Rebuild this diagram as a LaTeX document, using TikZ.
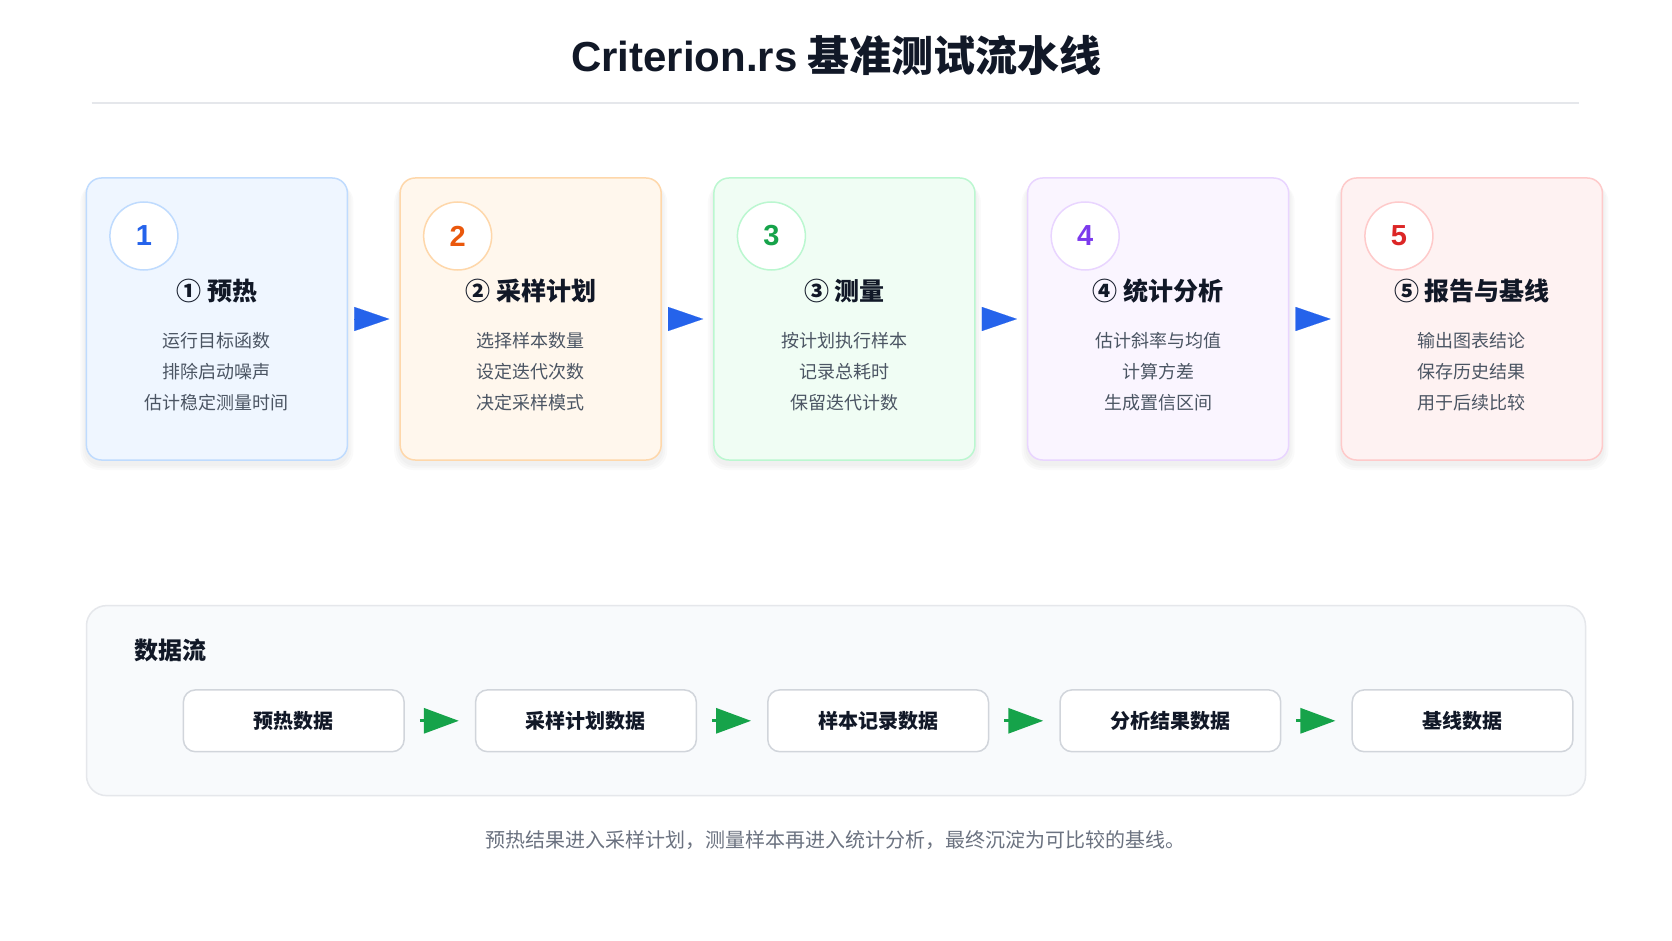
\documentclass[tikz,border=0pt]{standalone}
\usepackage{fontspec}
\setmainfont{Noto Sans CJK SC}
\newfontfamily\latinfont{Liberation Sans}
\usetikzlibrary{arrows.meta}
\definecolor{bluef}{HTML}{EFF6FF}\definecolor{blued}{HTML}{BFDBFE}\definecolor{bluen}{HTML}{2563EB}
\definecolor{orangef}{HTML}{FFF7ED}\definecolor{oranged}{HTML}{FED7AA}\definecolor{orangen}{HTML}{EA580C}
\definecolor{greenf}{HTML}{F0FDF4}\definecolor{greend}{HTML}{BBF7D0}\definecolor{greenn}{HTML}{16A34A}
\definecolor{purplef}{HTML}{FAF5FF}\definecolor{purpled}{HTML}{E9D5FF}\definecolor{purplen}{HTML}{7C3AED}
\definecolor{redf}{HTML}{FEF2F2}\definecolor{redd}{HTML}{FECACA}\definecolor{redn}{HTML}{DC2626}
\definecolor{titlec}{HTML}{111827}
\definecolor{headc}{HTML}{111827}
\definecolor{bodyc}{HTML}{4B5563}
\definecolor{capc}{HTML}{6B7280}
\definecolor{rulec}{HTML}{E5E7EB}
\definecolor{panelf}{HTML}{F8FAFC}
\definecolor{panelb}{HTML}{E5E7EB}
\definecolor{dboxb}{HTML}{D1D5DB}
\definecolor{arrowblue}{HTML}{2563EB}
\definecolor{arrowgreen}{HTML}{16A34A}
\tikzset{
  card/.style={line width=1.5pt, rounded corners=15pt, minimum width=261pt, minimum height=282pt, inner sep=0pt},
  numcircle/.style={circle, fill=white, line width=1.5pt, minimum size=68pt, inner sep=0pt, font=\latinfont\bfseries\fontsize{29}{30}\selectfont},
  headtext/.style={font=\bfseries\fontsize{25}{28}\selectfont, text=headc},
  bodytext/.style={font=\fontsize{18}{22}\selectfont, text=bodyc},
  dbox/.style={draw=dboxb, fill=white, line width=1.5pt, rounded corners=12pt, minimum width=220.7pt, minimum height=61.8pt, inner sep=0pt, font=\bfseries\fontsize{20}{24}\selectfont, text=headc},
  bluearrow/.style={arrowblue, line width=0.1pt, -{Triangle[length=35pt,width=24pt]}, shorten <=7pt, shorten >=10pt},
  greenarrow/.style={arrowgreen, line width=3pt, -{Triangle[length=35pt,width=25pt]}, shorten <=15pt, shorten >=16pt},
}
\newcommand\mkcard[7]{%
  \foreach \k in {1,2,3}{
    \fill[black, opacity=0.018, rounded corners=16pt+\k pt]
      (#2-130.5-2*\k, 178+2+\k) rectangle (#2+130.5+2*\k, 460+4+2*\k);
  }
  \node[card, fill=#3f, draw=#3d] (c#1) at (#2,319) {};
  \node[numcircle, draw=#3d, text=#3n] (n#1) at (#2-73,236) {#1};
  \node[headtext] (h#1) at (#2,291) {#4};
  \node[bodytext] (a#1) at (#2,341) {#5};
  \node[bodytext] (b#1) at (#2,372) {#6};
  \node[bodytext] (e#1) at (#2,403) {#7};
}
\begin{document}
\begin{tikzpicture}[x=1pt,y=-1pt]
\useasboundingbox (0,0) rectangle (1672,941);
\fill[white] (0,0) rectangle (1672,941);
\node[font=\bfseries\fontsize{42}{48}\selectfont, text=titlec] (title) at (836,55) {{\latinfont Criterion.rs} 基准测试流水线};
\coordinate (rl) at (91.7,103.4);
\coordinate (rr) at (1579,103.4);
\draw[rulec, line width=2pt] (rl) -- (rr);

\mkcard{1}{216.9}{blue}{① 预热}{运行目标函数}{排除启动噪声}{估计稳定测量时间}
\mkcard{2}{530.65}{orange}{② 采样计划}{选择样本数量}{设定迭代次数}{决定采样模式}
\mkcard{3}{844.4}{green}{③ 测量}{按计划执行样本}{记录总耗时}{保留迭代计数}
\mkcard{4}{1158.15}{purple}{④ 统计分析}{估计斜率与均值}{计算方差}{生成置信区间}
\mkcard{5}{1471.9}{red}{⑤ 报告与基线}{输出图表结论}{保存历史结果}{用于后续比较}

\draw[bluearrow] (c1.east) -- (c2.west);
\draw[bluearrow] (c2.east) -- (c3.west);
\draw[bluearrow] (c3.east) -- (c4.west);
\draw[bluearrow] (c4.east) -- (c5.west);

\node[draw=panelb, fill=panelf, line width=1.5pt, rounded corners=20pt, minimum width=1499pt, minimum height=190pt, inner sep=0pt] (panel) at (836,700.6) {};
\node[font=\bfseries\fontsize{24}{26}\selectfont, text=headc, anchor=west, inner sep=0pt] (dlabel) at (134,650) {数据流};

\node[dbox] (d1) at (293.75,720.8) {预热数据};
\node[dbox] (d2) at (585.95,720.8) {采样计划数据};
\node[dbox] (d3) at (878.15,720.8) {样本记录数据};
\node[dbox] (d4) at (1170.35,720.8) {分析结果数据};
\node[dbox] (d5) at (1462.55,720.8) {基线数据};

\draw[greenarrow] (d1.east) -- (d2.west);
\draw[greenarrow] (d2.east) -- (d3.west);
\draw[greenarrow] (d3.east) -- (d4.west);
\draw[greenarrow] (d4.east) -- (d5.west);

\node[font=\fontsize{20}{24}\selectfont, text=capc] (cap) at (835,840) {预热结果进入采样计划，测量样本再进入统计分析，最终沉淀为可比较的基线。};
\end{tikzpicture}
\end{document}
